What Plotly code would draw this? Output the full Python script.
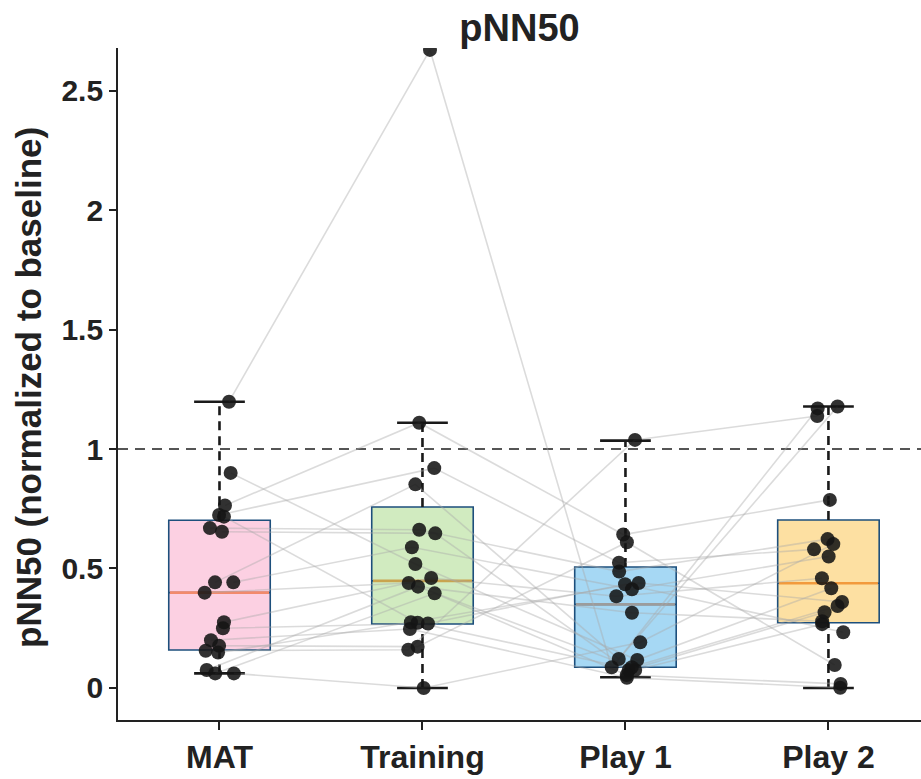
import plotly.graph_objects as go

# Conditions and per-subject pNN50 values (normalized to baseline)
conditions = ["MAT", "Training", "Play 1", "Play 2"]

mat = [1.198, 0.764, 0.724, 0.90, 0.717, 0.669, 0.654, 0.442, 0.442, 0.399,
       0.275, 0.25, 0.20, 0.177, 0.156, 0.148, 0.075, 0.061, 0.061]
training = [2.67, 1.11, 0.92, 0.519, 0.273, 0.662, 0.647, 0.852, 0.589, 0.439,
            0.46, 0.27, 0.247, 0.173, 0.16, 0.275, 0.424, 0.396, 0.0]
play1 = [0.087, 0.642, 0.524, 0.117, 0.075, 0.487, 0.075, 0.121, 0.413, 0.087,
         0.384, 0.434, 0.043, 0.61, 1.038, 0.439, 0.315, 0.054, 0.191]
play2 = [1.178, 0.787, 0.58, 0.417, 0.267, 0.623, 0.317, 1.17, 0.55, 0.343,
         0.459, 0.233, 0.001, 0.096, 1.138, 0.36, 0.279, 0.017, 0.602]

# Horizontal jitter of each subject's point within its condition
jitter_mat = [0.047, 0.027, -0.002, 0.055, 0.022, -0.047, 0.012, -0.022, 0.068, -0.073,
              0.022, 0.017, -0.042, -0.002, -0.068, -0.007, -0.063, -0.021, 0.071]
jitter_training = [0.037, -0.016, 0.058, -0.035, -0.024, -0.016, 0.063, -0.035, -0.052, -0.068,
                   0.043, 0.027, -0.062, -0.024, -0.070, -0.057, -0.022, 0.060, 0.006]
jitter_play1 = [-0.068, -0.011, -0.032, 0.058, 0.048, -0.031, 0.016, -0.033, 0.032, 0.031,
                -0.045, -0.002, 0.007, 0.007, 0.047, 0.065, 0.032, 0.006, 0.073]
jitter_play2 = [0.045, 0.007, -0.071, 0.014, -0.031, -0.004, -0.019, -0.053, 0.001, 0.045,
                -0.032, 0.073, 0.058, 0.031, -0.055, 0.067, -0.031, 0.060, 0.024]

# Box summary statistics per condition
q1 = [0.159, 0.268, 0.087, 0.273]
median = [0.399, 0.448, 0.350, 0.438]
q3 = [0.702, 0.757, 0.506, 0.703]
whisker_low = [0.061, 0.0, 0.045, 0.0]
whisker_high = [1.198, 1.110, 1.035, 1.178]

box_fill = ["#fcd0e2", "#d1ebc0", "#a6d8f4", "#fde0a2"]
median_color = ["#f28a6c", "#c9a44f", "#9c9c9c", "#f29a3c"]
box_edge = "#1d4f7c"

values = [mat, training, play1, play2]
jitters = [jitter_mat, jitter_training, jitter_play1, jitter_play2]

BOX_W = 0.5
CAP_W = 0.25

fig = go.Figure()

# Boxes (whiskers drawn separately as dashed lines)
for i, name in enumerate(conditions):
    fig.add_trace(go.Box(
        x=[i], q1=[q1[i]], median=[median[i]], q3=[q3[i]],
        lowerfence=[q1[i]], upperfence=[q3[i]],
        width=BOX_W, whiskerwidth=0,
        fillcolor=box_fill[i], line=dict(color=box_edge, width=1.6),
        boxpoints=False, showlegend=False, hoverinfo="skip",
    ))

# Median lines
for i in range(len(conditions)):
    fig.add_trace(go.Scatter(
        x=[i - BOX_W / 2 + 0.006, i + BOX_W / 2 - 0.006], y=[median[i], median[i]],
        mode="lines", line=dict(color=median_color[i], width=2.6),
        showlegend=False, hoverinfo="skip",
    ))

# Dashed whiskers and solid caps
for i in range(len(conditions)):
    for lo, hi in ((q3[i], whisker_high[i]), (whisker_low[i], q1[i])):
        fig.add_trace(go.Scatter(
            x=[i, i], y=[lo, hi], mode="lines",
            line=dict(color="#1a1a1a", width=2.6, dash="9px,6px"),
            showlegend=False, hoverinfo="skip",
        ))
    for yv in (whisker_low[i], whisker_high[i]):
        fig.add_trace(go.Scatter(
            x=[i - CAP_W / 2, i + CAP_W / 2], y=[yv, yv], mode="lines",
            line=dict(color="#1a1a1a", width=2.6),
            showlegend=False, hoverinfo="skip",
        ))

# Per-subject connecting lines across conditions
n_subjects = len(mat)
for s in range(n_subjects):
    fig.add_trace(go.Scatter(
        x=[i + jitters[i][s] for i in range(len(conditions))],
        y=[values[i][s] for i in range(len(conditions))],
        mode="lines", line=dict(color="rgba(170,170,170,0.42)", width=1.6),
        showlegend=False, hoverinfo="skip",
    ))

# Individual points
for i in range(len(conditions)):
    fig.add_trace(go.Scatter(
        x=[i + j for j in jitters[i]], y=values[i], mode="markers",
        marker=dict(color="rgba(20,20,20,0.88)", size=14, line=dict(width=0)),
        showlegend=False, hoverinfo="skip",
    ))

# Baseline reference
fig.add_shape(type="line", xref="paper", x0=0, x1=1, yref="y", y0=1, y1=1,
              line=dict(color="#555555", width=2, dash="10px,7px"), layer="below")

font_family = "Liberation Sans, Arial, sans-serif"

fig.update_layout(
    width=921, height=779,
    margin=dict(l=118, r=0, t=48, b=59),
    plot_bgcolor="white", paper_bgcolor="white",
    title=dict(text="pNN50", x=0.5, xref="paper", xanchor="center",
               y=1 - 28 / 779, yref="container", yanchor="middle",
               font=dict(family=font_family, size=38, color="#222222", weight="bold")),
    xaxis=dict(
        range=[-0.5, 3.456], tickmode="array", tickvals=list(range(len(conditions))),
        ticktext=conditions, showline=True, linecolor="#222222", linewidth=1.8,
        ticks="outside", ticklen=8, tickwidth=1.5, tickcolor="#222222",
        showgrid=False, zeroline=False,
        tickfont=dict(family=font_family, size=32, color="#222222", weight="bold"),
    ),
    yaxis=dict(
        range=[-0.134, 2.678], tickmode="array", tickvals=[0, 0.5, 1, 1.5, 2, 2.5],
        ticktext=["0", "0.5", "1", "1.5", "2", "2.5"],
        showline=True, linecolor="#222222", linewidth=1.8,
        ticks="outside", ticklen=7, tickwidth=1.5, tickcolor="#222222",
        showgrid=False, zeroline=False,
        tickfont=dict(family=font_family, size=30, color="#222222", weight="bold"),
    ),
    annotations=[dict(
        text="pNN50 (normalized to baseline)", textangle=-90,
        xref="paper", x=-90 / 803, xanchor="center",
        yref="paper", y=(720 - 388) / 672, yanchor="middle",
        showarrow=False,
        font=dict(family=font_family, size=35, color="#222222", weight="bold"),
    )],
)

fig.write_html("out.html")
